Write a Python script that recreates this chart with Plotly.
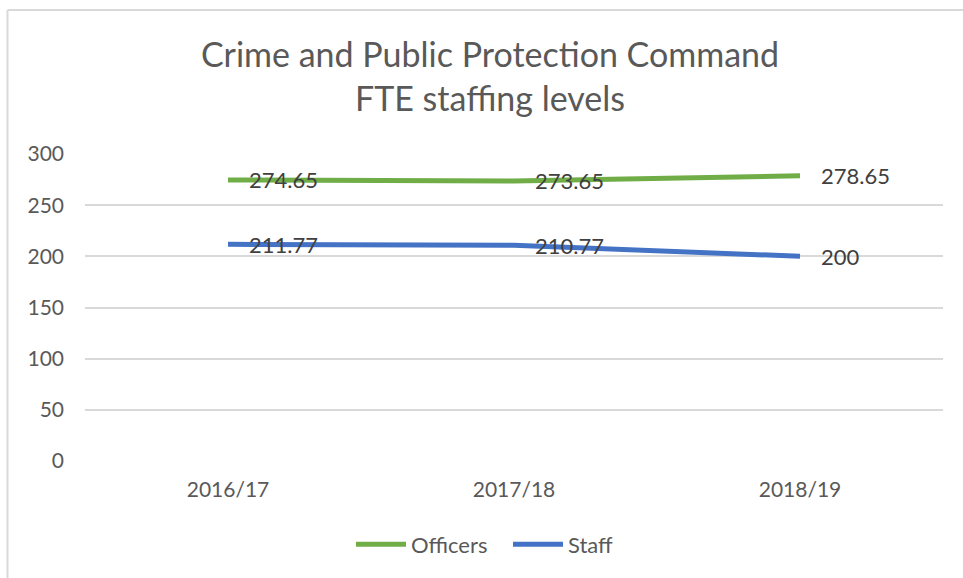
import plotly.graph_objects as go

categories = ["2016/17", "2017/18", "2018/19"]
officers = [274.65, 273.65, 278.65]
staff = [211.77, 210.77, 200]
officer_labels = ["274.65", "273.65", "278.65"]
staff_labels = ["211.77", "210.77", "200"]
y_ticks = [0, 50, 100, 150, 200, 250, 300]

FONT = "Lato, 'Open Sans', sans-serif"
GREY = "#595959"

fig = go.Figure()
fig.add_trace(go.Scatter(x=categories, y=officers, mode="lines", name="Officers",
                         line=dict(color="#70AD47", width=5)))
fig.add_trace(go.Scatter(x=categories, y=staff, mode="lines", name="Staff",
                         line=dict(color="#4472C4", width=5)))

annotations = []
for xs, ys, labs in [(categories, officers, officer_labels), (categories, staff, staff_labels)]:
    for cx, cy, lab in zip(xs, ys, labs):
        annotations.append(dict(x=cx, y=cy, xref="x", yref="y", text=lab, showarrow=False,
                                xanchor="left", yanchor="middle", xshift=19,
                                font=dict(family=FONT, size=22, color="#404040")))

W, H = 963, 578
L, R, T, B = 85, 20, 154, 115
pw, ph = W - L - R, H - T - B

def px_x(p):
    return (p - L) / pw

def px_y(p):
    return (H - B - p) / ph

shapes = [
    dict(type="line", xref="paper", yref="paper", x0=px_x(7.5), x1=px_x(970), y0=px_y(9), y1=px_y(9),
         line=dict(color="#d9d9d9", width=2)),
    dict(type="line", xref="paper", yref="paper", x0=px_x(7.5), x1=px_x(7.5), y0=px_y(9), y1=px_y(590),
         line=dict(color="#d9d9d9", width=2)),
]

fig.update_layout(
    width=W, height=H,
    margin=dict(l=L, r=R, t=T, b=B),
    paper_bgcolor="white", plot_bgcolor="white",
    title=dict(text="Crime and Public Protection Command<br>FTE staffing levels",
               x=490 / W, xanchor="center", y=1 - 67 / H, yanchor="middle",
               font=dict(family=FONT, size=34, color=GREY)),
    font=dict(family=FONT, color=GREY),
    xaxis=dict(type="category", range=[-0.5, 2.5], showgrid=False, zeroline=False, showline=False,
               ticks="", tickfont=dict(family=FONT, size=21, color=GREY), ticklabelstandoff=14),
    yaxis=dict(range=[0, 300], tickvals=y_ticks, showgrid=True, gridcolor="#d9d9d9", gridwidth=1.5,
               zeroline=False, showline=False, ticks="",
               tickfont=dict(family=FONT, size=21, color=GREY), ticklabelstandoff=20),
    legend=dict(orientation="h", x=px_x(508), xanchor="center", y=px_y(547), yanchor="middle",
                font=dict(family=FONT, size=22, color=GREY), itemwidth=50, entrywidth=92),
    annotations=annotations,
    shapes=shapes,
    showlegend=True,
)

fig.write_html("out.html")
